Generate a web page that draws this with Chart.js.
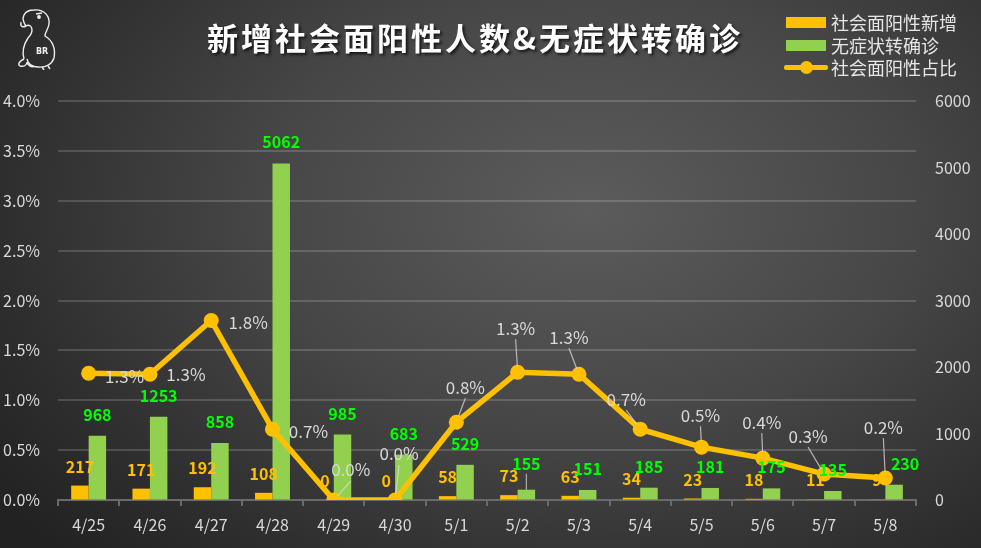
<!DOCTYPE html>
<html>
<head>
<meta charset="utf-8">
<script src="https://cdn.jsdelivr.net/npm/chart.js@4.4.1/dist/chart.umd.min.js"></script>
<style>
  html, body { margin: 0; padding: 0; }
  body {
    width: 981px; height: 548px; overflow: hidden; position: relative;
    background: radial-gradient(ellipse 75% 90% at 60% 38%, #5c5c5c 0%, #464646 45%, #2e2e2e 80%, #222 100%);
    font-family: "Noto Sans CJK SC", "Noto Sans", sans-serif;
  }
  #wrap { position: absolute; left: 0; top: 0; width: 981px; height: 548px; }
  .title {
    position: absolute; left: 0; top: 14px; width: 950px; text-align: center;
    color: #fff; font-size: 31px; font-weight: bold; letter-spacing: 3px;
    text-shadow: 2px 2px 3px rgba(0,0,0,0.7);
  }
  .legend { position: absolute; left: 784px; top: 10px; color: #e6e6e6; font-size: 18px; }
  .legend .row { position: relative; height: 22.5px; line-height: 24px; padding-left: 47px; white-space: nowrap; }
  .sw { position: absolute; left: 2px; top: 7px; width: 40px; height: 11px; }
  .ln { position: absolute; left: 0; top: 10px; width: 44px; height: 5px; background: #FFC000; border-radius: 2px; }
  .dot { position: absolute; left: 16px; top: 6px; width: 13px; height: 13px; border-radius: 50%; background: #FFC000; }
  .logo { position: absolute; left: 12px; top: 4px; }
</style>
</head>
<body>
<div id="wrap"><canvas id="c" width="981" height="548"></canvas></div>

<svg class="logo" width="54" height="66" viewBox="0 0 54 66" fill="none" stroke="#eee" stroke-width="1.4">
  <path d="M14 22 C8 14 12 6 22 6 C32 5 38 12 37 20 C36 26 33 28 33 32 C40 36 44 44 42 54 C40 60 34 64 26 63 C20 63 16 60 15 55"/>
  <path d="M14 22 C10 24 8 22 9 18 M14 22 C17 20 20 22 20 26 C20 30 18 32 16 34"/>
  <path d="M16 34 C12 40 10 48 12 55 M12 55 C8 57 5 60 8 62 C12 63 15 61 15 58 M15 58 C16 62 20 64 22 62"/>
  <circle cx="27" cy="13" r="1.2" fill="#eee"/>
  <path d="M24 10 L30 9"/>
  <path d="M30 63 L32 66 M36 62 L38 65"/>
  <text x="24" y="50" font-size="8" font-weight="bold" fill="#eee" stroke="none" font-family="DejaVu Sans">BR</text>
</svg>

<div class="title">新增社会面阳性人数&amp;无症状转确诊</div>

<div class="legend">
  <div class="row"><span class="sw" style="background:#FFC000"></span>社会面阳性新增</div>
  <div class="row"><span class="sw" style="background:#92D050"></span>无症状转确诊</div>
  <div class="row"><span class="ln"></span><span class="dot"></span>社会面阳性占比</div>
</div>

<script>
const categories = ['4/25', '4/26', '4/27', '4/28', '4/29', '4/30', '5/1', '5/2', '5/3', '5/4', '5/5', '5/6', '5/7', '5/8'];
const socialNew = [217, 171, 192, 108, 0, 0, 58, 73, 63, 34, 23, 18, 11, 9];
const asymToConfirmed = [968, 1253, 858, 5062, 985, 683, 529, 155, 151, 185, 181, 175, 135, 230];
const socialShare = [1.27, 1.26, 1.80, 0.71, 0, 0, 0.78, 1.28, 1.26, 0.71, 0.53, 0.42, 0.26, 0.22]; // percent

// where each percent label sits relative to its point: [dx, dy, leader line]
const shareLabelPos = [
  [36, 3, false], [36, 0, false], [37, 2, false], [36, 2, false],
  [17, -30, true], [4, -46, true], [9, -35, true], [-2, -44, true],
  [-10, -37, true], [-14, -30, true], [-1, -32, true], [-1, -36, true],
  [-16, -38, true], [-2, -51, true]
];
// green label nudges: [dx, dy, leader]
const greenLabelPos = { 7: [0, -5, true], 13: [11, 0, false] };

const YELLOW = '#FFC000';
const GREEN = '#92D050';
const GRID = 'rgba(255,255,255,0.16)';
const TICK = '#d9d9d9';
const FONT = '"Noto Sans CJK SC", "Noto Sans", sans-serif';

const labelPlugin = {
  id: 'labels',
  afterDatasetsDraw(chart) {
    const ctx = chart.ctx;
    const yellowBars = chart.getDatasetMeta(0).data;
    const greenBars = chart.getDatasetMeta(1).data;
    const points = chart.getDatasetMeta(2).data;
    ctx.save();
    ctx.textAlign = 'center';
    ctx.textBaseline = 'middle';

    ctx.font = 'bold 16px ' + FONT;
    yellowBars.forEach((b, i) => {
      ctx.fillStyle = YELLOW;
      ctx.fillText(String(socialNew[i]), b.x, b.y - 19);
    });
    greenBars.forEach((b, i) => {
      const p = greenLabelPos[i] || [0, 0, false];
      const lx = b.x + p[0], ly = b.y - 21 + p[1];
      if (p[2]) {
        ctx.strokeStyle = 'rgba(220,220,220,0.7)';
        ctx.lineWidth = 1.2;
        ctx.beginPath();
        ctx.moveTo(lx, ly + 10);
        ctx.lineTo(b.x, b.y);
        ctx.stroke();
      }
      ctx.fillStyle = '#00FF00';
      ctx.fillText(String(asymToConfirmed[i]), lx, ly);
    });

    ctx.font = '17px ' + FONT;
    points.forEach((pt, i) => {
      const p = shareLabelPos[i];
      const lx = pt.x + p[0], ly = pt.y + p[1];
      if (p[2]) {
        const sx = lx, sy = ly + 11;
        const dx = pt.x - sx, dy = pt.y - sy;
        const d = Math.hypot(dx, dy);
        ctx.strokeStyle = 'rgba(220,220,220,0.75)';
        ctx.lineWidth = 1.2;
        ctx.beginPath();
        ctx.moveTo(sx, sy);
        ctx.lineTo(pt.x - dx / d * 6, pt.y - dy / d * 6);
        ctx.stroke();
      }
      ctx.fillStyle = TICK;
      ctx.fillText(socialShare[i].toFixed(1) + '%', lx, ly);
    });
    ctx.restore();
  }
};

new Chart(document.getElementById('c'), {
  type: 'bar',
  data: {
    labels: categories,
    datasets: [
      { label: '社会面阳性新增', data: socialNew, backgroundColor: YELLOW, yAxisID: 'yR', order: 2,
        categoryPercentage: 0.57, barPercentage: 1.0 },
      { label: '无症状转确诊', data: asymToConfirmed, backgroundColor: GREEN, yAxisID: 'yR', order: 2,
        categoryPercentage: 0.57, barPercentage: 1.0 },
      { type: 'line', label: '社会面阳性占比', data: socialShare, yAxisID: 'yL', order: 0,
        borderColor: YELLOW, borderWidth: 5.5, pointRadius: 7.5, pointBackgroundColor: YELLOW,
        pointBorderColor: YELLOW, pointBorderWidth: 0, tension: 0 }
    ]
  },
  options: {
    responsive: false,
    animation: false,
    layout: { padding: { top: 101, left: 0, right: 0, bottom: 0 } },
    plugins: { legend: { display: false }, tooltip: { enabled: false } },
    scales: {
      x: {
        offset: true,
        grid: { offset: true, drawOnChartArea: false, drawTicks: true, tickLength: 6, color: '#6a6a6a', lineWidth: 2 },
        border: { display: true, color: '#6a6a6a', width: 2 },
        ticks: { color: TICK, font: { size: 16, family: FONT }, padding: 9, maxRotation: 0 },
        afterFit(s) { s.height = 48; }
      },
      yL: {
        position: 'left', min: 0, max: 4,
        ticks: { stepSize: 0.5, color: TICK, font: { size: 16, family: FONT }, padding: 18,
          callback: v => v.toFixed(1) + '%' },
        grid: { color: GRID, lineWidth: 2, drawTicks: false },
        border: { display: false },
        afterFit(s) { s.width = 58; }
      },
      yR: {
        position: 'right', min: 0, max: 6000,
        ticks: { stepSize: 1000, color: TICK, font: { size: 16, family: FONT }, padding: 19,
          callback: v => String(v) },
        grid: { drawOnChartArea: false, drawTicks: false },
        border: { display: false },
        afterFit(s) { s.width = 65; }
      }
    }
  },
  plugins: [labelPlugin]
});
</script>
</body>
</html>
